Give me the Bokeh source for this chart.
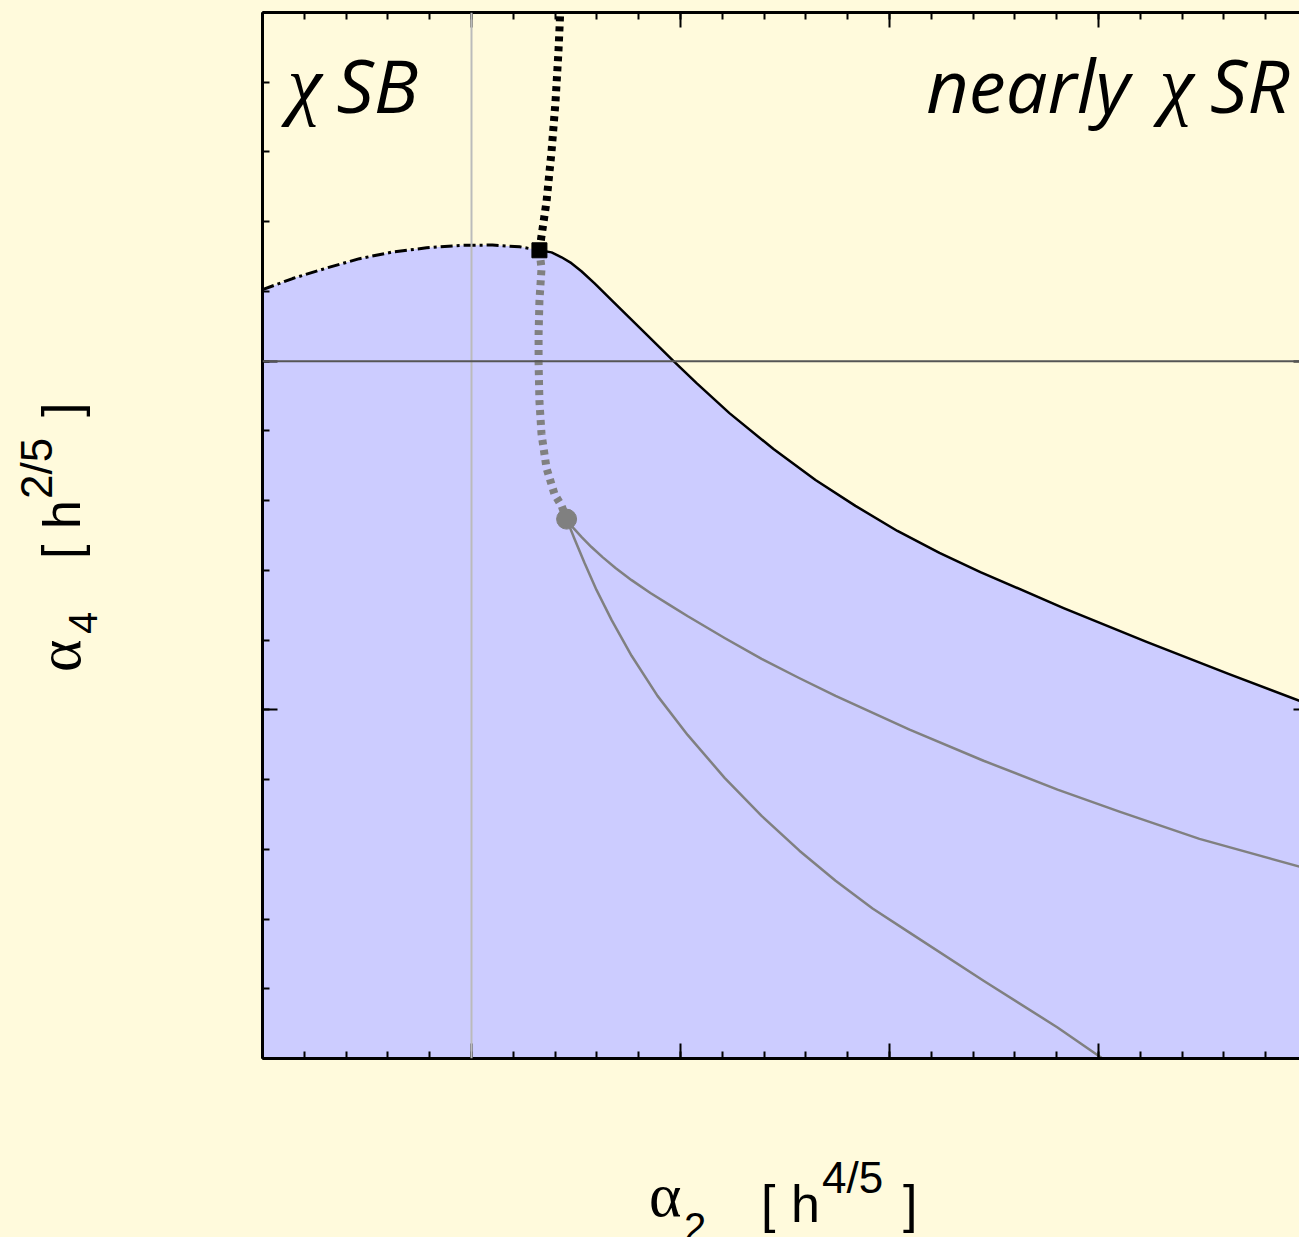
from bokeh.plotting import figure
from bokeh.layouts import row, column
from bokeh.models import LinearAxis, FixedTicker, Span, Label, Range1d, CustomJSTickFormatter, Div
from bokeh.embed import file_html
from bokeh.resources import INLINE

BG = "#FFFADC"
FILL = "#CCCCFF"
GRAY = "#808080"

# ---- data (alpha_2 on x, alpha_4 on y) ----
# dot-dashed part of the region boundary (left of the square)
bnd_dash_x = [-1.0, -0.856, -0.694, -0.536, -0.378, -0.215, -0.057, 0.100, 0.230, 0.325]
bnd_dash_y = [0.205, 0.237, 0.267, 0.294, 0.313, 0.325, 0.332, 0.333, 0.328, 0.318]
# solid part of the boundary (right of the square)
bnd_solid_x = [0.325, 0.383, 0.431, 0.478, 0.526, 0.589, 0.675, 0.837, 0.962, 1.077, 1.234, 1.445,
               1.646, 1.837, 2.038, 2.239, 2.435, 2.833, 3.230, 3.622, 3.962]
bnd_solid_y = [0.318, 0.312, 0.298, 0.281, 0.258, 0.223, 0.172, 0.077, 0.003, -0.063, -0.149, -0.252,
               -0.341, -0.415, -0.487, -0.550, -0.605, -0.708, -0.805, -0.897, -0.974]
# black dotted curve above the square
top_dot_x = [0.325, 0.359, 0.383, 0.402, 0.416, 0.426]
top_dot_y = [0.318, 0.458, 0.602, 0.745, 0.888, 1.02]
# gray dotted curve from the square down to the circle
mid_dot_x = [0.325, 0.335, 0.325, 0.321, 0.321, 0.325, 0.335, 0.359, 0.397, 0.431, 0.455]
mid_dot_y = [0.318, 0.266, 0.172, 0.077, -0.003, -0.115, -0.209, -0.307, -0.381, -0.415, -0.453]
# gray solid curves leaving the circle
upper_x = [0.455, 0.488, 0.526, 0.574, 0.627, 0.689, 0.766, 0.856, 0.947, 1.033, 1.211, 1.388,
           1.565, 1.742, 2.096, 2.450, 2.804, 3.100, 3.483, 3.962]
upper_y = [-0.453, -0.479, -0.504, -0.533, -0.562, -0.593, -0.628, -0.665, -0.699, -0.731, -0.794,
           -0.854, -0.908, -0.960, -1.057, -1.146, -1.229, -1.292, -1.370, -1.450]
lower_x = [0.455, 0.493, 0.541, 0.598, 0.670, 0.766, 0.890, 1.034, 1.211, 1.388, 1.569, 1.742,
           1.919, 2.096, 2.450, 2.804, 3.019]
lower_y = [-0.453, -0.510, -0.579, -0.656, -0.742, -0.845, -0.960, -1.072, -1.195, -1.304, -1.404,
           -1.490, -1.570, -1.639, -1.777, -1.911, -2.0]
# special points
square_x, square_y = [0.325], [0.318]
circle_x, circle_y = [0.455], [-0.453]

x_major = [-1, 0, 1, 2, 3, 4]
x_minor = [round(-1 + 0.2 * i, 1) for i in range(26)]
y_major = [-2, -1, 0, 1]
y_minor = [round(-2 + 0.2 * i, 1) for i in range(16)]
X0, X1, Y0, Y1 = -1.0, 3.9617, -2.0, 1.0

LEFT_W = 120      # width of the y-label column
PLOT_H = 1070
p = figure(width=1299 - LEFT_W, height=PLOT_H, x_range=Range1d(X0, X1), y_range=Range1d(Y0, Y1),
           output_backend="svg", toolbar_location=None,
           x_axis_location=None, y_axis_location=None,
           min_border_left=262 - LEFT_W, min_border_right=0, min_border_top=12, min_border_bottom=12)
p.background_fill_color = BG
p.border_fill_color = BG
p.outline_line_color = None
p.grid.visible = False

# filled region
full_x = bnd_dash_x + bnd_solid_x[1:]
full_y = bnd_dash_y + bnd_solid_y[1:]
p.varea(x=full_x, y1=[Y0] * len(full_x), y2=full_y, fill_color=FILL)

# reference lines
p.add_layout(Span(location=0, dimension="height", line_color="#BBBBBB", line_width=2))
p.add_layout(Span(location=0, dimension="width", line_color="#555555", line_width=2))

# boundary
p.line(bnd_dash_x, bnd_dash_y, line_color="black", line_width=3, line_dash="12 4 3 4")
p.line(bnd_solid_x, bnd_solid_y, line_color="black", line_width=2.5, line_join="round")

# gray curves
p.line(upper_x, upper_y, line_color=GRAY, line_width=2.5, line_join="round")
p.line(lower_x, lower_y, line_color=GRAY, line_width=2.5, line_join="round")
p.line(mid_dot_x, mid_dot_y, line_color=GRAY, line_width=8, line_dash="5 5")
p.line(top_dot_x, top_dot_y, line_color="black", line_width=8, line_dash="5 5")

p.scatter(circle_x, circle_y, marker="circle", size=20, fill_color=GRAY, line_color=GRAY)
p.scatter(square_x, square_y, marker="square", size=15, fill_color="black", line_color="black")


def mk_axis(ticks, minors, show_line=True, major_in=15, minor_in=7):
    ax = LinearAxis(ticker=FixedTicker(ticks=ticks, minor_ticks=minors),
                    formatter=CustomJSTickFormatter(code="return ''"))
    ax.major_label_text_font_size = "0px"
    ax.major_label_standoff = 0
    ax.major_tick_in = major_in
    ax.major_tick_out = 0
    ax.minor_tick_in = minor_in
    ax.minor_tick_out = 0
    ax.major_tick_line_width = 2
    ax.minor_tick_line_width = 2
    ax.major_tick_line_color = "black"
    ax.minor_tick_line_color = "black" if minor_in > 0 else None
    ax.axis_line_width = 3
    ax.axis_line_color = "black" if show_line else None
    return ax


p.add_layout(mk_axis(x_major, x_minor), "below")
p.add_layout(mk_axis(x_major, x_minor), "above")
p.add_layout(mk_axis(y_major, y_minor), "left")
# the right frame edge lies just outside the picture: only the tips of major ticks show
p.add_layout(mk_axis(y_major, y_minor, show_line=False, major_in=6, minor_in=0), "right")


def sx(px):
    return (px - 472) / 209.0


def sy(py):
    return (360 - py) / 349.0


def lab(text, px, py, size, font, align="left"):
    p.add_layout(Label(x=sx(px), y=sy(py), text=text, text_font=font, text_font_size=f"{size}px",
                       text_font_style="italic", text_align=align, text_baseline="alphabetic",
                       text_color="black"))


# region names
lab("χ", 288, 82, 78, "Liberation Serif")
lab("SB", 337, 83, 74, "Open Sans")
lab("nearly", 1130, 83, 74, "Open Sans", align="right")
lab("χ", 1160, 82, 78, "Liberation Serif")
lab("SR", 1290, 83, 74, "Open Sans", align="right")

# ---- axis titles as HTML text (outside the plot frame) ----
SANS = "'Liberation Sans', Arial, sans-serif"
SERIF = "'Liberation Serif', 'Times New Roman', serif"


def piece(text, left, top, size, family, rotate=False):
    tr = "transform:rotate(-90deg);transform-origin:0 0;" if rotate else ""
    return (f'<span style="position:absolute;left:{left}px;top:{top}px;font-family:{family};'
            f'font-size:{size}px;line-height:{size}px;white-space:nowrap;color:#000;{tr}">{text}</span>')


XDIV_H = 1237 - PLOT_H
x_html = (f'<div style="position:relative;width:1299px;height:{XDIV_H}px;overflow:hidden;">'
          + piece("α", 649, 94, 62, SERIF)
          + piece("2", 684, 137, 40, SANS)
          + piece("[", 761, 108, 52, SANS)
          + piece("h", 791, 108, 52, SANS)
          + piece("4/5", 822, 86, 44, SANS)
          + piece("]", 903, 108, 52, SANS)
          + '</div>')
y_html = (f'<div style="position:relative;width:{LEFT_W}px;height:{PLOT_H}px;overflow:hidden;">'
          + piece("α", 28, 672, 62, SERIF, True)
          + piece("4", 63, 634, 40, SANS, True)
          + piece("[", 35, 559, 52, SANS, True)
          + piece("h", 36, 529, 52, SANS, True)
          + piece("2/5", 15, 499, 44, SANS, True)
          + piece("]", 35, 417, 52, SANS, True)
          + '</div>')

ydiv = Div(text=y_html, width=LEFT_W, height=PLOT_H, margin=(0, 0, 0, 0),
           styles={"background-color": BG, "overflow": "hidden"})
xdiv = Div(text=x_html, width=1299, height=XDIV_H, margin=(0, 0, 0, 0),
           styles={"background-color": BG, "overflow": "hidden"})

layout = column(row(ydiv, p, spacing=0), xdiv, spacing=0)

html = file_html(layout, INLINE)
html = html.replace("</head>", "<style>html, body { background-color: #FFFADC; }</style></head>", 1)
open("out.html", "w").write(html)
